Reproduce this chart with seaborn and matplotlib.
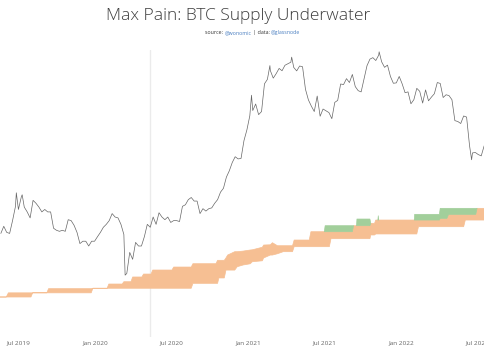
import pandas as pd
import matplotlib.pyplot as plt
import seaborn as sns

# weekly BTC price (USD), rough closes, starting Monday 2019-05-20
price_start = "2019-05-20"
price_weekly = [
    8000, 8700, 8100, 8000, 9300, 11000, 10600, 12300, 10900, 10300, 9600,
    11800, 11400, 10900, 10300, 10600, 10300, 10300, 8500, 8300, 8200, 8300,
    8200, 9400, 9300, 8800, 8100, 7100, 7300, 7300, 6900, 7300, 7300,
    # 2020
    7700, 8100, 8600, 8900, 9300, 10100, 9700, 9600, 8900, 7900, 5000, 6400,
    5900, 7200, 6900, 6900, 7700, 8900, 8600, 9700, 8900, 10200, 9700, 9400,
    9700, 9100, 9300, 9300, 9200, 11000, 11200, 11900, 12200, 11700, 11700,
    10100, 10700, 10400, 10700, 10800, 11400, 11900, 13000, 13600, 15500,
    16700, 18400, 19700, 19200, 19300, 23800, 27000,
    # 2021
    31900, 33900, 36600, 32300, 33500, 46400, 48900, 54200, 49600, 52300,
    55600, 54100, 57700, 58700, 59800, 56200, 54000, 57200, 56700, 43500,
    38400, 35700, 33500, 40200, 31700, 34500, 33800, 33100, 30800, 37300,
    38200, 46300, 46000, 49300, 47100, 51800, 44900, 42800, 42200, 49100,
    57400, 62000, 63100, 61000, 65000, 60100, 56300, 57800, 50600, 46700,
    46900, 50600,
    # 2022
    46400, 41800, 42200, 36700, 38500, 44000, 42500, 37000, 43200, 38000,
    39700, 41300, 47100, 46600, 39500, 40800, 40400, 38500, 30100, 29800,
    29100, 31800, 31400, 22500, 20600, 20700, 20200, 19900, 22400,
]
# a few daily extremes on top of the weekly series
spike_dates = ["2019-06-26", "2019-07-10", "2020-03-12", "2021-01-08",
               "2021-02-21", "2021-04-14", "2021-11-09", "2022-06-18"]
spike_values = [12900, 12600, 4900, 40600, 57500, 63500, 67600, 19000]

# supply-underwater band (USD price levels)
band_dates = [
    "2019-05-18", "2019-06-02", "2019-06-07", "2019-07-31", "2019-08-04",
    "2019-09-07", "2019-09-11", "2019-12-22", "2019-12-26", "2020-01-29",
    "2020-02-02", "2020-03-05", "2020-03-09", "2020-03-26", "2020-03-30",
    "2020-04-21", "2020-04-25", "2020-05-13", "2020-05-17", "2020-07-02",
    "2020-07-06", "2020-08-17", "2020-08-21", "2020-10-15", "2020-10-19",
    "2020-10-22", "2020-11-04", "2020-11-08", "2020-11-12", "2020-11-29",
    "2020-12-05", "2020-12-19", "2021-01-05", "2021-01-10", "2021-02-03",
    "2021-02-06", "2021-02-22", "2021-02-27", "2021-03-11", "2021-03-25",
    "2021-04-16", "2021-04-20", "2021-05-26", "2021-05-30", "2021-07-01",
    "2021-07-03", "2021-07-13", "2021-07-17", "2021-09-06", "2021-09-09",
    "2021-09-16", "2021-09-17", "2021-10-18", "2021-10-20", "2021-10-29",
    "2021-11-01", "2021-11-06", "2021-11-07", "2021-11-08", "2022-02-01",
    "2022-02-02", "2022-02-07", "2022-02-11", "2022-04-02", "2022-04-04",
    "2022-04-20", "2022-04-24", "2022-05-30", "2022-06-03", "2022-06-28",
    "2022-07-01", "2022-07-20",
]
band_low = [
    3790, 3790, 3790, 3790, 3980, 3980, 3980, 3980, 4200, 4200,
    4200, 4200, 4200, 4200, 4200, 4200, 4200, 4200, 4200, 4200,
    4200, 4200, 4450, 4450, 4450, 4740, 4740, 5200, 5200, 5200,
    5410, 5520, 5600, 5736, 5800, 5995, 6205, 6205, 6300, 6455,
    6455, 6845, 6845, 6845, 6845, 6845, 6845, 7520, 7520, 7520,
    7520, 7520, 7520, 7854, 7854, 7949, 7949, 7949, 7949, 7949,
    7949, 7949, 8657, 8657, 8657, 8657, 8657, 8657, 9363, 9363,
    9363, 9363,
]
band_mid = [
    3790, 3790, 3980, 3980, 3980, 3980, 4180, 4180, 4200, 4200,
    4415, 4415, 4536, 4536, 4795, 4795, 4964, 4964, 5204, 5204,
    5390, 5390, 5605, 5605, 5833, 5833, 5833, 6000, 6205, 6455,
    6455, 6500, 6584, 6600, 6800, 6980, 7000, 7173, 6924, 6924,
    6924, 7403, 7403, 8163, 8163, 8163, 8163, 8163, 8163, 8760,
    8760, 8760, 8760, 9008, 9008, 9363, 9363, 9363, 9363, 9363,
    9363, 9363, 9363, 9363, 9552, 9552, 10010, 10010, 10010, 10010,
    10743, 10743,
]
band_high = [
    3790, 3790, 3980, 3980, 3980, 3980, 4180, 4180, 4200, 4200,
    4415, 4415, 4536, 4536, 4795, 4795, 4964, 4964, 5204, 5204,
    5390, 5390, 5605, 5605, 5833, 5833, 5833, 6000, 6205, 6455,
    6455, 6500, 6584, 6600, 6800, 6980, 7000, 7173, 6924, 6924,
    6924, 7403, 7403, 8163, 8163, 8760, 8760, 8760, 8760, 8760,
    8760, 9474, 9474, 9008, 9008, 9363, 9363, 9847, 9363, 9363,
    10010, 10010, 10010, 10010, 10743, 10743, 10743, 10743, 10743, 10743,
    10743, 10743,
]

tick_dates = ["2019-07-01", "2020-01-01", "2020-07-01", "2021-01-01",
              "2021-07-01", "2022-01-01", "2022-07-01"]
tick_labels = ["Jul 2019", "Jan 2020", "Jul 2020", "Jan 2021",
               "Jul 2021", "Jan 2022", "Jul 2022"]
halving_date = "2020-05-11"

sns.set_theme(style="white")
plt.rcParams["font.family"] = ["Open Sans", "DejaVu Sans"]

weekly = pd.Series(price_weekly,
                   index=pd.date_range(price_start, periods=len(price_weekly), freq="7D"))
spikes = pd.Series(spike_values, index=pd.to_datetime(spike_dates))
price = pd.concat([weekly, spikes]).sort_index()
df = pd.DataFrame({"date": price.index, "price": price.values})

bands = pd.DataFrame({
    "date": pd.to_datetime(band_dates),
    "low": band_low,
    "mid": band_mid,
    "high": band_high,
})

fig = plt.figure(figsize=(4.85, 3.6), dpi=100)
ax = fig.add_axes([0, 0.064, 1, 0.797])

ax.axvline(pd.Timestamp(halving_date), color="#ebebeb", lw=1, zorder=0)
ax.fill_between(bands["date"], bands["low"], bands["mid"],
                facecolor="#f6bf93", edgecolor="#f6bf93", lw=0.5, zorder=1)
ax.fill_between(bands["date"], bands["mid"], bands["high"],
                where=bands["high"] > bands["mid"], interpolate=True,
                facecolor="#a2cf9b", edgecolor="#a2cf9b", lw=0.5, zorder=1)
sns.lineplot(data=df, x="date", y="price", ax=ax, color="#666666", lw=0.5, zorder=2)

ax.set_yscale("log")
ax.set_ylim(2370, 69000)
ax.set_xlim(pd.Timestamp("2019-05-18"), pd.Timestamp("2022-07-20"))
ax.set_xticks(pd.to_datetime(tick_dates))
ax.set_xticklabels(tick_labels, fontsize=4.6, color="#666666")
ax.tick_params(axis="x", length=0, pad=2.5)
ax.tick_params(axis="y", which="both", left=False, labelleft=False)
ax.set_xlabel("")
ax.set_ylabel("")
ax.grid(False)
for s in ax.spines.values():
    s.set_visible(False)

fig.text(0.49, 0.955, "Max Pain: BTC Supply Underwater", ha="center", va="center",
         fontsize=12.5, fontweight="light", color="#3d3d3d")

# subtitle with coloured handles
t = fig.text(0.423, 0.902, "source: ", fontsize=3.8, color="#333333", ha="left", va="bottom")
parts = [("@wonomic", "#4a7fc1"), (" | data: ", "#333333"), ("@glassnode", "#4a7fc1")]
for txt, col in parts:
    t = ax.annotate(txt, xy=(1, 0), xycoords=t, ha="left", va="bottom",
                    fontsize=3.8, color=col)

fig.savefig("out.png", dpi=100)
